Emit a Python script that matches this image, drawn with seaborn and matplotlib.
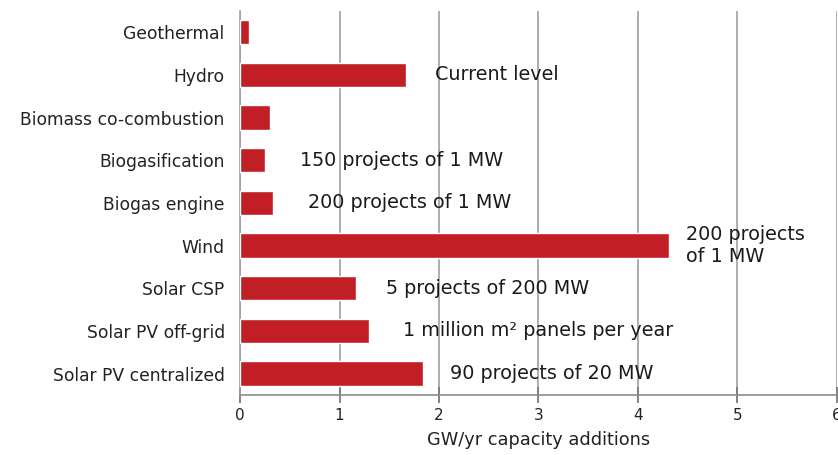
import matplotlib
matplotlib.use("Agg")
import matplotlib.pyplot as plt
import seaborn as sns
import pandas as pd

categories = ["Geothermal", "Hydro", "Biomass co-combustion", "Biogasification",
              "Biogas engine", "Wind", "Solar CSP", "Solar PV off-grid",
              "Solar PV centralized"]
values = [0.09, 1.67, 0.30, 0.25, 0.33, 4.31, 1.17, 1.30, 1.84]
notes = ["", "Current level", "", "150 projects of 1 MW", "200 projects of 1 MW",
         "200 projects\nof 1 MW", "5 projects of 200 MW",
         "1 million m² panels per year", "90 projects of 20 MW"]
x_ticks = [0, 1, 2, 3, 4, 5, 6]
x_label = "GW/yr capacity additions"

sns.set_theme(style="white")
plt.rcParams['font.family'] = ['DejaVu Sans']

df = pd.DataFrame({"cat": categories, "val": values})

fig = plt.figure(figsize=(8.38, 4.55), dpi=100)
ax = fig.add_axes([0.2864, 0.132, 0.7124, 0.844])

sns.barplot(data=df, x="val", y="cat", orient="h", color="#C21E26",
            width=0.57, ax=ax, saturation=1, zorder=3)

# annotation offsets (positions relative to bar ends)
offsets = [0, 0.29, 0, 0.35, 0.35, 0.17, 0.30, 0.34, 0.27]
for i, (v, t) in enumerate(zip(values, notes)):
    if t:
        ax.text(v + offsets[i], i, t, va="center", ha="left", fontsize=13.8,
                color="#1a1a1a", zorder=4, linespacing=1.15)

ax.set_xlim(0, 6)
ax.set_ylim(8.5, -0.5)
ax.set_xticks(x_ticks)
ax.set_xticklabels([str(t) for t in x_ticks], fontsize=11, color="#222222")
ax.set_xlabel(x_label, fontsize=12.8, color="#222222", labelpad=6)
ax.set_ylabel("")
ax.tick_params(axis="y", labelsize=12.3, colors="#222222", length=0, pad=11,
               left=False)
ax.tick_params(axis="x", bottom=True, direction="inout", length=11, width=1.3,
               color="#7a7a7a", pad=4)
ax.xaxis.grid(True, color="#a0a0a0", linewidth=1.2, zorder=0)
ax.yaxis.grid(False)
for s in ["top", "right"]:
    ax.spines[s].set_visible(False)
ax.spines["left"].set_color("#a0a0a0")
ax.spines["left"].set_linewidth(1.2)
ax.spines["bottom"].set_color("#8c8c8c")
ax.spines["bottom"].set_linewidth(1.2)

fig.savefig("out.png", dpi=100)
